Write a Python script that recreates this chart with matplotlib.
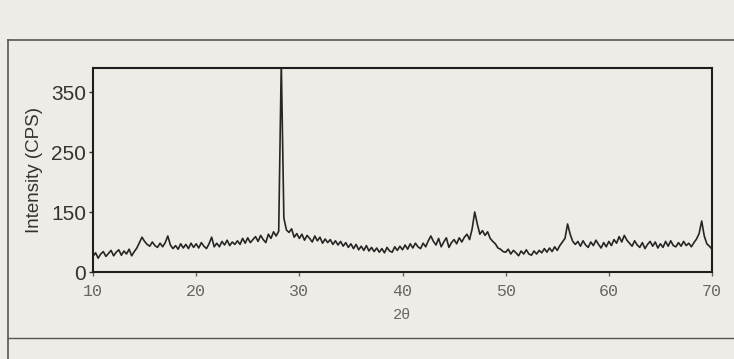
import matplotlib.pyplot as plt
from matplotlib.lines import Line2D
import numpy as np

# scanned XRD pattern, axis bottom sits at 50 (labelled "0")
two_theta_start = 10.0
two_theta_step = 0.25
intensity = [
    76, 82, 73, 80, 84, 76, 81, 86, 77, 83, 87, 78, 85, 80, 88, 77,   # 10-13.75
    84, 90, 99, 108,     # 14
    101, 96, 93, 100,    # 15
    94, 91, 98, 92,      # 16
    99, 110, 95, 89,     # 17
    94, 88, 97, 90,      # 18
    96, 89, 98, 91,      # 19
    97, 90, 99, 93,      # 20
    89, 97, 108, 92,     # 21
    98, 92, 101, 95,     # 22
    103, 94, 100, 96,    # 23
    102, 96, 106, 98,    # 24
    107, 99, 104, 109,   # 25
    101, 111, 104, 99,   # 26
    113, 106, 117, 110,  # 27
    118, 400, 140, 120,  # 28
    116, 122, 108, 114,  # 29
    106, 113, 103, 111,  # 30
    106, 100, 110, 102,  # 31
    108, 98, 105, 99,    # 32
    104, 96, 102, 95,    # 33
    101, 93, 99, 91,     # 34
    97, 89, 96, 87,      # 35
    93, 86, 94, 85,      # 36
    91, 84, 90, 83,      # 37
    89, 82, 91, 85,      # 38
    83, 92, 86, 93,      # 39
    87, 95, 88, 97,      # 40
    90, 98, 92, 89,      # 41
    98, 92, 102, 110,    # 42
    101, 95, 106, 92,    # 43
    100, 107, 91, 99,    # 44
    104, 97, 107, 100,   # 45
    108, 113, 104, 122,  # 46
    150, 130, 113, 119,  # 47
    111, 117, 106, 101,  # 48
    97, 90, 88, 84,      # 49
    83, 88, 80, 86,      # 50
    82, 77, 85, 80,      # 51
    87, 80, 78, 85,      # 52
    80, 86, 82, 89,      # 53
    83, 90, 84, 92,      # 54
    86, 94, 100, 106,    # 55
    130, 113, 101, 96,   # 56
    101, 93, 102, 95,    # 57
    91, 100, 94, 103,    # 58
    96, 90, 99, 92,      # 59
    101, 94, 104, 98,    # 60
    109, 100, 111, 103,  # 61
    98, 93, 102, 95,     # 62
    91, 99, 89, 96,      # 63
    101, 93, 100, 90,    # 64
    97, 91, 101, 93,     # 65
    102, 94, 92, 99,     # 66
    93, 101, 94, 98,     # 67
    92, 99, 105, 114,    # 68
    135, 110, 97, 93,    # 69
    88,                  # 70
]
two_theta = two_theta_start + two_theta_step * np.arange(len(intensity))

y_ticks = [50, 150, 250, 350]
y_tick_labels = ['0', '150', '250', '350']
x_ticks = [10, 20, 30, 40, 50, 60, 70]

paper = '#eeece6'
ink = '#262626'

fig = plt.figure(figsize=(7.34, 3.59), dpi=100, facecolor=paper)
ax = fig.add_axes([93/734, 87/359, 619/734, 204/359])
ax.set_facecolor(paper)

ax.plot(two_theta, intensity, color=ink, linewidth=1.2)
ax.set_xlim(10, 70)
ax.set_ylim(50, 390)

ax.set_yticks(y_ticks)
ax.set_yticklabels(y_tick_labels, fontsize=15, family='Liberation Sans', color='#333333')
ax.set_xticks(x_ticks)
ax.set_xticklabels([str(t) for t in x_ticks], fontsize=12, family='Liberation Mono', color='#666666')
ax.tick_params(axis='y', length=3, width=1, pad=2, colors='#333333')
ax.tick_params(axis='x', length=3, width=1, pad=6, colors='#666666')
for s in ax.spines.values():
    s.set_linewidth(1.5)
    s.set_color('#1e1e1e')

ax.set_ylabel('Intensity (CPS)', fontsize=13.5, family='Liberation Sans', color='#333333', labelpad=6)
ax.set_xlabel('2θ', fontsize=11, family='Liberation Mono', color='#666666', labelpad=6)

# frame of the scanned page
fig.add_artist(Line2D([8/734, 8/734], [0, 1 - 40/359], transform=fig.transFigure, color='#555555', lw=1.2))
fig.add_artist(Line2D([8/734, 1], [1 - 40/359, 1 - 40/359], transform=fig.transFigure, color='#555555', lw=1.2))
fig.add_artist(Line2D([8/734, 1], [1 - 338/359, 1 - 338/359], transform=fig.transFigure, color='#555555', lw=1.0))

fig.savefig('out.png', dpi=100, facecolor=paper)
